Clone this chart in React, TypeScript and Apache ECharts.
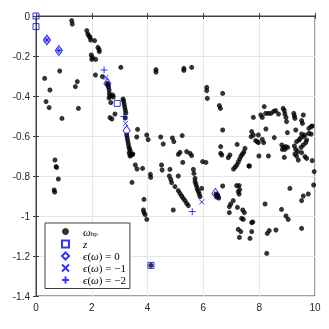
import React, { useEffect, useRef } from "react";
import * as echarts from "echarts";

const xTicks = [0, 2, 4, 6, 8, 10];
const yTicks = [0, -0.2, -0.4, -0.6, -0.8, -1, -1.2, -1.4];

const omegaHp: [number, number][] = [
  [1.28, -0.023], [1.3, -0.04],
  [1.82, -0.073], [1.86, -0.09], [1.9, -0.1], [1.94, -0.107], [1.96, -0.12],
  [2.1, -0.123], [2.22, -0.157], [2.26, -0.167], [2.27, -0.178],
  [1.98, -0.195], [2.02, -0.207], [2.0, -0.217], [2.14, -0.217],
  [0.85, -0.275], [0.31, -0.312], [1.48, -0.328], [1.41, -0.353], [0.5, -0.37],
  [0.36, -0.428], [0.47, -0.458], [1.52, -0.462], [0.93, -0.512],
  [2.13, -0.295], [2.38, -0.303], [3.04, -0.257],
  [2.56, -0.337], [2.58, -0.345], [2.6, -0.355], [2.62, -0.37], [2.63, -0.387],
  [2.65, -0.4], [2.62, -0.41], [2.75, -0.395], [2.77, -0.405], [2.68, -0.433],
  [2.65, -0.508], [2.72, -0.515], [2.83, -0.49],
  [3.12, -0.415], [3.14, -0.425], [3.16, -0.44], [3.18, -0.455], [3.2, -0.47],
  [3.22, -0.485], [3.2, -0.51],
  [3.25, -0.595], [3.27, -0.61], [3.29, -0.625], [3.31, -0.64], [3.33, -0.655],
  [3.35, -0.665], [3.38, -0.675], [3.34, -0.685], [3.4, -0.695], [3.45, -0.693],
  [3.47, -0.69], [3.37, -0.7],
  [3.64, -0.567], [3.61, -0.605], [3.97, -0.595], [4.02, -0.618], [4.47, -0.605],
  [4.56, -0.64], [4.89, -0.61], [4.94, -0.628], [5.24, -0.598],
  [3.56, -0.745], [3.62, -0.765], [3.82, -0.762], [4.1, -0.792], [4.11, -0.807],
  [3.44, -0.832], [4.5, -0.745], [4.52, -0.77],
  [3.87, -0.917], [3.85, -0.97], [3.87, -0.983], [3.91, -0.993], [3.97, -1.017],
  [0.68, -0.72], [0.72, -0.753], [0.74, -0.757], [0.8, -0.815], [0.65, -0.87], [0.67, -0.88],
  [4.12, -1.247], [4.3, -0.268], [4.3, -0.28],
  [5.3, -0.262], [5.3, -0.272], [5.58, -0.257],
  [6.12, -0.357], [6.12, -0.373], [6.14, -0.412], [6.69, -0.387], [6.57, -0.448],
  [6.61, -0.462], [6.69, -0.57],
  [6.62, -0.653], [6.62, -0.687], [6.66, -0.695], [7.21, -0.642], [7.49, -0.662],
  [6.95, -0.695], [6.89, -0.708],
  [7.45, -0.68], [7.4, -0.69], [7.35, -0.7], [7.3, -0.715], [7.25, -0.73],
  [7.2, -0.745], [7.14, -0.755], [7.08, -0.765],
  [6.09, -0.732], [7.65, -0.75],
  [5.16, -0.682], [5.4, -0.678], [5.52, -0.687], [5.58, -0.698], [5.26, -0.732], [5.1, -0.692],
  [4.8, -0.767], [4.78, -0.8], [4.83, -0.817], [4.86, -0.833], [4.98, -0.853],
  [5.1, -0.873], [5.16, -0.887], [5.22, -0.9], [5.28, -0.912], [5.34, -0.923],
  [5.4, -0.937], [5.46, -0.948], [5.1, -0.8],
  [5.64, -0.767], [5.66, -0.787], [5.7, -0.812], [5.7, -0.828], [5.73, -0.84],
  [5.76, -0.853], [5.78, -0.867], [5.82, -0.878], [5.85, -0.89], [5.88, -0.903],
  [5.94, -0.862], [5.97, -0.728], [4.92, -0.97],
  [6.45, -0.89], [6.5, -0.895], [6.52, -0.9], [6.55, -0.91], [6.48, -0.905],
  [6.69, -0.85], [7.19, -0.848], [7.28, -0.848], [7.3, -0.868], [7.25, -0.878], [7.28, -0.89],
  [7.07, -0.923], [6.98, -0.94], [6.93, -0.953], [6.93, -0.983], [7.22, -0.957],
  [7.41, -0.97], [7.47, -0.983], [7.43, -1.017], [7.37, -1.012], [7.73, -1.033],
  [7.77, -1.03], [7.25, -1.067], [7.34, -1.078], [7.29, -1.107], [7.73, -1.078], [7.67, -1.112],
  [8.21, -0.94], [8.29, -1.087], [8.36, -1.073], [8.6, -1.07], [8.8, -0.967],
  [8.96, -1.0], [9.04, -1.017], [8.27, -1.187],
  [8.18, -0.453], [8.06, -0.495], [8.11, -0.507], [7.79, -0.507], [8.23, -0.487],
  [8.33, -0.487], [8.42, -0.487], [8.52, -0.477], [8.59, -0.473], [8.69, -0.49],
  [8.86, -0.462], [8.9, -0.473], [8.92, -0.49], [8.96, -0.507], [8.98, -0.528],
  [9.24, -0.487], [9.26, -0.5], [9.28, -0.512], [9.58, -0.495], [9.52, -0.523],
  [9.55, -0.537], [9.86, -0.553], [9.78, -0.562], [9.9, -0.55],
  [8.24, -0.565], [9.01, -0.583], [9.31, -0.57], [8.54, -0.608],
  [7.73, -0.578], [7.79, -0.595], [7.71, -0.603], [7.97, -0.595], [7.87, -0.623],
  [7.93, -0.628], [7.97, -0.633], [8.11, -0.617], [8.16, -0.633],
  [9.52, -0.59], [9.58, -0.603], [9.64, -0.595], [9.78, -0.587], [9.86, -0.59],
  [9.34, -0.628], [9.43, -0.62], [9.47, -0.612], [9.7, -0.62],
  [8.81, -0.645], [8.88, -0.657], [8.95, -0.653], [9.02, -0.657], [8.83, -0.667],
  [8.92, -0.667], [8.9, -0.707],
  [9.26, -0.65], [9.31, -0.667], [9.38, -0.678], [9.28, -0.69], [9.34, -0.7], [9.4, -0.72],
  [9.5, -0.657], [9.58, -0.645], [9.67, -0.633],
  [9.52, -0.683], [9.64, -0.703], [9.7, -0.712], [9.9, -0.723],
  [7.99, -0.7], [8.33, -0.7], [7.63, -0.75],
  [9.97, -0.778], [9.1, -0.862], [9.58, -0.9], [9.76, -0.89], [9.95, -0.845],
  [9.52, -0.923], [9.52, -1.062],
];

const zPoints: [number, number][] = [[0, 0], [0, -0.053], [2.91, -0.437], [4.12, -1.247]];
const eps0: [number, number][] = [[0.39, -0.12], [0.82, -0.173], [2.56, -0.337], [3.25, -0.573], [6.43, -0.887]];
const epsM1: [number, number][] = [[0.39, -0.12], [0.82, -0.173], [2.51, -0.307], [3.21, -0.537], [5.94, -0.93]];
const epsM2: [number, number][] = [[0.39, -0.12], [0.82, -0.173], [2.44, -0.27], [3.15, -0.503], [5.6, -0.978]];

const seriesNames = ["ω_hp", "z", "ϵ(ω) = 0", "ϵ(ω) = −1", "ϵ(ω) = −2"];

const BLUE = "#0000ff";
const AXIS = "#404040";
const CROSS = "path://M0 0L10 10M10 0L0 10";
const PLUS = "path://M5 0L5 10M0 5L10 5";

export default function App() {
  const ref = useRef<HTMLDivElement>(null);
  useEffect(() => {
    if (!ref.current) return;
    const chart = echarts.init(ref.current, undefined, { renderer: "svg" });
    const blueStyle = { color: "rgba(0,0,0,0)", borderColor: BLUE, borderWidth: 1 };
    const baseX = { type: "value" as const, min: 0, max: 10, interval: 2 };
    const baseY = { type: "value" as const, min: -1.4, max: 0, interval: 0.2 };
    const labelStyle = { color: "#262626", fontSize: 10, fontFamily: "Liberation Sans, Arial, sans-serif" };
    chart.setOption({
      animation: false,
      grid: { left: 36, right: 14, top: 16, bottom: 33, show: true, borderColor: AXIS, borderWidth: 1, backgroundColor: "#fff" },
      xAxis: [
        {
          ...baseX, position: "bottom",
          axisLine: { show: true, lineStyle: { color: AXIS } },
          axisTick: { show: true, inside: true, length: 3, lineStyle: { color: AXIS } },
          axisLabel: { ...labelStyle, margin: 6, formatter: (v: number) => (xTicks.includes(v) ? String(v) : "") },
          splitLine: { show: true, lineStyle: { color: "#e6e6e6" } },
        },
        {
          ...baseX, position: "top",
          axisLine: { show: true, lineStyle: { color: AXIS } },
          axisTick: { show: true, inside: true, length: 3, lineStyle: { color: AXIS } },
          axisLabel: { show: false },
          splitLine: { show: false },
        },
      ],
      yAxis: [
        {
          ...baseY, position: "left",
          axisLine: { show: true, lineStyle: { color: AXIS } },
          axisTick: { show: true, inside: true, length: 3, lineStyle: { color: AXIS } },
          axisLabel: {
            ...labelStyle, margin: 6,
            formatter: (v: number) => {
              const t = yTicks.find((y) => Math.abs(y - v) < 1e-6);
              return t === undefined ? "" : String(t);
            },
          },
          splitLine: { show: true, lineStyle: { color: "#e6e6e6" } },
        },
        {
          ...baseY, position: "right",
          axisLine: { show: true, lineStyle: { color: AXIS } },
          axisTick: { show: true, inside: true, length: 3, lineStyle: { color: AXIS } },
          axisLabel: { show: false },
          splitLine: { show: false },
        },
      ],
      legend: {
        orient: "vertical",
        left: 45,
        top: 223,
        data: [
          { name: seriesNames[0], icon: "circle", itemStyle: { color: "#000", borderWidth: 0 } },
          { name: seriesNames[1], icon: "rect" },
          { name: seriesNames[2], icon: "diamond" },
          { name: seriesNames[3], icon: CROSS },
          { name: seriesNames[4], icon: PLUS },
        ],
        backgroundColor: "#fff",
        borderColor: AXIS,
        borderWidth: 1,
        borderRadius: 0,
        padding: [3, 4, 3, 16],
        itemGap: 1,
        itemWidth: 7,
        itemHeight: 7,
        textStyle: {
          fontFamily: "Liberation Serif, DejaVu Serif, serif",
          fontSize: 11,
          lineHeight: 11,
          color: "#000",
          padding: [0, 0, 0, 9],
          rich: {
            i: { fontFamily: "Liberation Serif, serif", fontStyle: "italic", fontSize: 11, color: "#000" },
            n: { fontFamily: "Liberation Serif, serif", fontSize: 11, color: "#000" },
            s: { fontFamily: "Liberation Serif, serif", fontSize: 7, color: "#000", padding: [5, 0, 0, 0] },
          },
        },
        formatter: (name: string) => {
          if (name === "ω_hp") return "{i|ω}{s|hp}";
          if (name === "z") return "{i|z}";
          const m = name.match(/= (.*)$/);
          return "{i|ϵ}{n|(}{i|ω}{n|) = " + (m ? m[1] : "") + "}";
        },
      },
      series: [
        {
          name: seriesNames[0], type: "scatter", data: omegaHp, symbol: "circle", symbolSize: 5,
          itemStyle: { color: "#000" }, clip: false,
        },
        {
          name: seriesNames[1], type: "scatter", data: zPoints, symbol: "rect", symbolSize: 6,
          itemStyle: blueStyle, clip: false, z: 3,
        },
        {
          name: seriesNames[2], type: "scatter", data: eps0, symbol: "diamond", symbolSize: [7, 10],
          itemStyle: blueStyle, clip: false, z: 3,
        },
        {
          name: seriesNames[3], type: "scatter", data: epsM1, symbol: CROSS, symbolSize: 5,
          itemStyle: blueStyle, clip: false, z: 3,
        },
        {
          name: seriesNames[4], type: "scatter", data: epsM2, symbol: PLUS, symbolSize: 7,
          itemStyle: blueStyle, clip: false, z: 3,
        },
      ],
    });
    return () => chart.dispose();
  }, []);
  return <div ref={ref} style={{ position: "fixed", left: 0, top: 0, width: 329, height: 329 }} />;
}
